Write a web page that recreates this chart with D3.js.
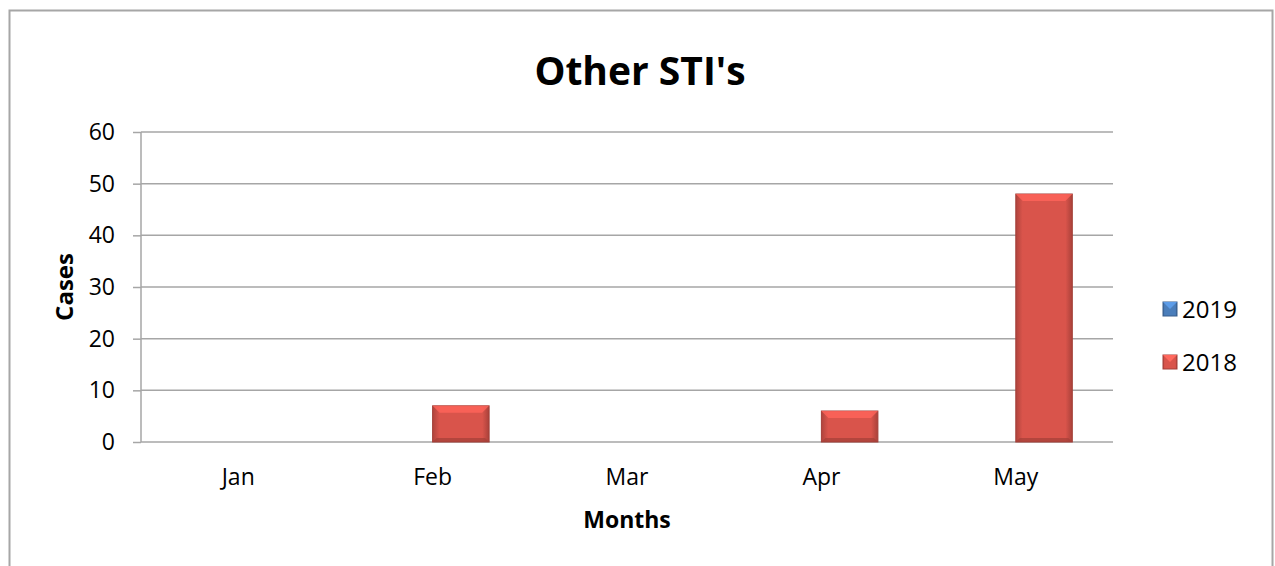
<!DOCTYPE html>
<html>
<head>
    <meta charset="utf-8">
    <title>Other STI's</title>
    <script src="https://d3js.org/d3.v7.min.js"></script>
    <style>
        body {
            margin: 0;
            background-color: white;
            font-family: "Open Sans", Arial, sans-serif;
        }
        svg {
            display: block;
        }
        .grid line {
            stroke: #a6a6a6;
            stroke-width: 1.5px;
        }
        .axis-y path,
        .axis-x path {
            display: none;
        }
        .axis-y line {
            stroke: #a6a6a6;
            stroke-width: 1.5px;
        }
        .axis-y text,
        .axis-x text {
            font-family: "Open Sans", Arial, sans-serif;
            font-size: 23px;
            fill: black;
        }
    </style>
</head>
<body>
    <svg width="1275" height="566"></svg>

    <script>
        const months = ["Jan", "Feb", "Mar", "Apr", "May"];
        const seriesNames = ["2019", "2018"];
        const values2019 = [0, 0, 0, 0, 0];
        const values2018 = [0, 7, 0, 6, 48];
        const yTicks = [0, 10, 20, 30, 40, 50, 60];
        const colors = { "2019": "#4a7ebb", "2018": "#d9544b" };

        const svg = d3.select("svg"),
              margin = { top: 132, right: 162, bottom: 124, left: 141 },
              width = +svg.attr("width") - margin.left - margin.right,
              height = +svg.attr("height") - margin.top - margin.bottom;

        // chart border
        svg.append("rect")
           .attr("x", 9.5).attr("y", 10.5)
           .attr("width", 1263).attr("height", 570)
           .attr("fill", "none")
           .attr("stroke", "#a6a6a6")
           .attr("stroke-width", 2);

        const defs = svg.append("defs");
        seriesNames.forEach(s => {
            const base = d3.color(colors[s]);
            const grad = defs.append("linearGradient")
                .attr("id", "grad" + s)
                .attr("x1", "0%").attr("x2", "100%");
            grad.append("stop").attr("offset", "0%").attr("stop-color", base.darker(0.6));
            grad.append("stop").attr("offset", "12%").attr("stop-color", base);
            grad.append("stop").attr("offset", "88%").attr("stop-color", base);
            grad.append("stop").attr("offset", "100%").attr("stop-color", base.darker(0.7));
        });

        const g = svg.append("g").attr("transform", `translate(${margin.left},${margin.top})`);

        const x = d3.scaleBand()
                    .domain(months)
                    .range([0, width]);

        const xInner = d3.scaleBand()
                    .domain(seriesNames)
                    .range([0, x.bandwidth()])
                    .paddingInner(0)
                    .paddingOuter(0.72);

        const y = d3.scaleLinear()
                    .domain([0, 60])
                    .range([height, 0]);

        // gridlines
        g.append("g")
         .attr("class", "grid")
         .selectAll("line")
         .data(yTicks)
         .join("line")
         .attr("x1", 0).attr("x2", width)
         .attr("y1", d => y(d)).attr("y2", d => y(d));

        // y axis
        g.append("g")
         .attr("class", "axis-y")
         .call(d3.axisLeft(y).tickValues(yTicks).tickSize(8).tickPadding(18));

        g.append("line")
         .attr("x1", 0).attr("x2", 0)
         .attr("y1", 0).attr("y2", height)
         .attr("stroke", "#a6a6a6")
         .attr("stroke-width", 1.5);

        // x axis
        g.append("g")
         .attr("class", "axis-x")
         .attr("transform", `translate(0,${height})`)
         .call(d3.axisBottom(x).tickSize(0).tickPadding(27));

        // bars
        const data = [];
        months.forEach((m, i) => {
            data.push({ month: m, series: "2019", value: values2019[i] });
            data.push({ month: m, series: "2018", value: values2018[i] });
        });

        const bars = g.selectAll(".bar")
                      .data(data.filter(d => d.value > 0))
                      .join("g")
                      .attr("class", "bar");

        bars.append("rect")
            .attr("x", d => x(d.month) + xInner(d.series))
            .attr("y", d => y(d.value))
            .attr("width", xInner.bandwidth())
            .attr("height", d => y(0) - y(d.value))
            .attr("fill", d => `url(#grad${d.series})`)
            .attr("stroke", d => d3.color(colors[d.series]).darker(0.8))
            .attr("stroke-width", 1);

        // top bevel
        bars.append("path")
            .attr("d", d => {
                const x0 = x(d.month) + xInner(d.series), w = xInner.bandwidth();
                const y0 = y(d.value), b = 7;
                return `M${x0},${y0}L${x0 + w},${y0}L${x0 + w - b},${y0 + b}L${x0 + b},${y0 + b}Z`;
            })
            .attr("fill", d => d3.color(colors[d.series]).brighter(0.5))
            .attr("opacity", 0.8);

        // bottom bevel
        bars.append("path")
            .attr("d", d => {
                const x0 = x(d.month) + xInner(d.series), w = xInner.bandwidth();
                const y1 = y(0), b = 4;
                return `M${x0},${y1}L${x0 + w},${y1}L${x0 + w - b},${y1 - b}L${x0 + b},${y1 - b}Z`;
            })
            .attr("fill", d => d3.color(colors[d.series]).darker(0.8))
            .attr("opacity", 0.7);

        // title
        svg.append("text")
           .attr("x", 640)
           .attr("y", 85)
           .attr("text-anchor", "middle")
           .attr("font-size", "39px")
           .attr("font-weight", "bold")
           .text("Other STI's");

        // axis titles
        svg.append("text")
           .attr("x", margin.left + width / 2)
           .attr("y", 528)
           .attr("text-anchor", "middle")
           .attr("font-size", "23px")
           .attr("font-weight", "bold")
           .text("Months");

        svg.append("text")
           .attr("transform", `translate(73,${margin.top + height / 2}) rotate(-90)`)
           .attr("text-anchor", "middle")
           .attr("font-size", "24px")
           .attr("font-weight", "bold")
           .text("Cases");

        // legend
        const legend = svg.append("g")
                          .selectAll("g")
                          .data(seriesNames)
                          .join("g")
                          .attr("transform", (d, i) => `translate(1163,${302 + i * 53})`);

        legend.append("rect")
              .attr("width", 14).attr("height", 14)
              .attr("fill", d => `url(#grad${d})`)
              .attr("stroke", d => d3.color(colors[d]).darker(0.8));

        legend.append("path")
              .attr("d", "M0,0L14,0L7,7Z")
              .attr("fill", d => d3.color(colors[d]).brighter(0.6));

        legend.append("text")
              .attr("x", 19)
              .attr("y", 16)
              .attr("font-size", "24px")
              .text(d => d);
    </script>
</body>
</html>
